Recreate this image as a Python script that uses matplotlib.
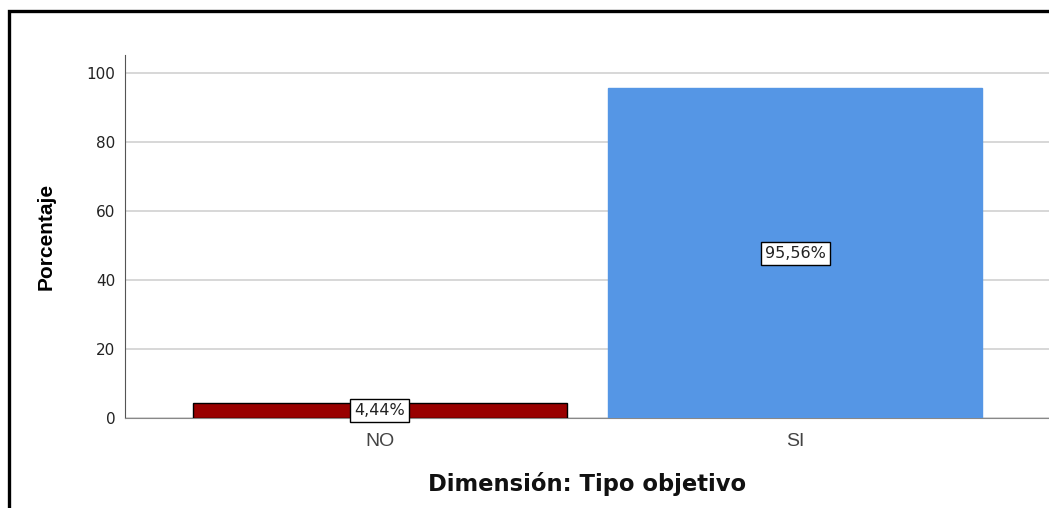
import matplotlib
matplotlib.use("Agg")
import matplotlib.pyplot as plt
from matplotlib.patches import Rectangle

categorias = ["NO", "SI"]
porcentajes = [4.44, 95.56]
etiquetas = ["4,44%", "95,56%"]
colores = ["#990000", "#5596e5"]
bordes = ["#000000", "#5596e5"]

plt.rcParams["font.family"] = ["DejaVu Sans"]

fig = plt.figure(figsize=(10.49, 5.08), dpi=100)
ax = fig.add_axes([125 / 1049, 1 - 418 / 508, 1 - 125 / 1049 + 0.001, (418 - 55) / 508])

# marco negro de la imagen (solo se ve arriba e izquierda)
fig.patches.append(Rectangle((8.5 / 1049, -0.1), 1.2, 1 - 11 / 508 + 0.1,
                             transform=fig.transFigure, fill=False,
                             edgecolor="black", linewidth=2.4))

x = list(range(len(categorias)))
ax.bar(x, porcentajes, width=0.9, color=colores, edgecolor=bordes,
       linewidth=1, zorder=3)

for xi, v, txt in zip(x, porcentajes, etiquetas):
    ax.text(xi, v / 2, txt, ha="center", va="center", fontsize=11.5, zorder=4,
            color="#222222",
            bbox=dict(boxstyle="square,pad=0.25", facecolor="white",
                      edgecolor="black", linewidth=1))

ax.set_xlim(-0.6125, 1.6125)
ax.set_ylim(0, 105.2)
ax.set_yticks([0, 20, 40, 60, 80, 100])
ax.set_xticks(x)
ax.set_xticklabels(categorias, fontsize=14, color="#444444",
                   fontfamily="Liberation Sans")
ax.tick_params(axis="y", length=0, labelsize=11, pad=7, labelcolor="#222222")
ax.tick_params(axis="x", length=0, pad=11)
ax.grid(axis="y", color="#d4d4d4", linewidth=1.3, zorder=0)
ax.set_axisbelow(True)

for s in ["top", "right"]:
    ax.spines[s].set_visible(False)
ax.spines["left"].set_color("#555555")
ax.spines["bottom"].set_color("#888888")

ax.set_ylabel("Porcentaje", fontsize=15, fontweight="bold", labelpad=22,
              fontfamily="Liberation Sans")
ax.set_xlabel("Dimensión: Tipo objetivo", fontsize=16.3, fontweight="bold",
              labelpad=16, color="#111111")

fig.savefig("out.png", dpi=100)
